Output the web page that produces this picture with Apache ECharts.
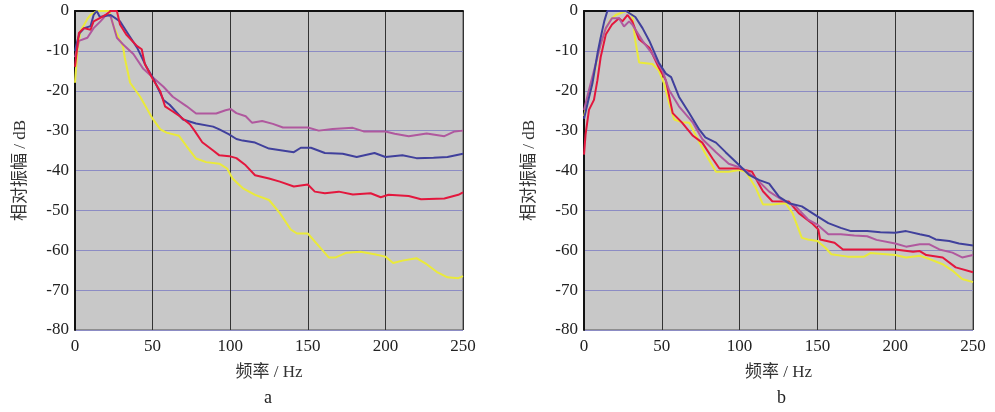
<!DOCTYPE html>
<html>
<head>
<meta charset="utf-8">
<script src="https://cdn.jsdelivr.net/npm/echarts@6/dist/echarts.min.js"></script>
<style>
  html, body { margin: 0; padding: 0; background: #fff; }
  #chart { width: 995px; height: 412px; }
</style>
</head>
<body>
<div id="chart"></div>
<script>
// x ticks / y ticks
var xTicks = [0, 50, 100, 150, 200, 250];
var yTicks = [0, -10, -20, -30, -40, -50, -60, -70, -80];

// panel a  [频率 Hz, 相对振幅 dB]
var aYellow = [[0,-18],[1.5,-10],[3.6,-5],[8,-2],[10,-1],[14,0],[22,0],[25,-4],[31,-9],[32,-11.6],[35.5,-18],[42,-21.5],[50,-27],[55,-29.7],[59,-30.5],[67,-31.3],[71.7,-33.8],[78,-37],[84.5,-37.9],[93,-38.3],[98,-39.5],[101.5,-42],[108,-44.4],[116,-46.1],[125,-47.4],[132,-50.7],[139,-54.8],[143,-55.8],[150,-55.8],[157,-58.9],[163.5,-61.8],[168,-61.8],[175,-60.6],[184,-60.4],[193,-61],[200,-61.6],[205,-63.2],[211,-62.6],[220,-62],[226.6,-63.5],[233,-65.4],[240,-66.8],[247,-67],[250,-66.5]];
var aRed = [[0,-14],[2.5,-5.5],[5.7,-4.3],[10,-4.7],[12,-2.6],[16,-1.8],[19.6,-1],[23,0],[27,0],[29,-3.4],[33,-5.9],[40,-8.8],[43,-9.6],[45,-13.3],[50,-17],[55,-20.2],[58,-23.9],[63,-25.2],[67.5,-26.4],[74,-28.4],[77,-30],[82,-32.9],[89,-35],[93,-36.2],[99.4,-36.4],[104,-36.9],[110,-38.7],[116,-41.2],[125,-42],[132,-42.8],[141,-44],[150,-43.5],[154.5,-45.3],[161,-45.7],[170,-45.3],[179,-46],[190.5,-45.7],[197,-46.7],[202,-46.1],[215,-46.4],[223,-47.2],[238,-47],[247,-46.1],[250,-45.5]];
var aBlue = [[0,-10],[1.5,-7.5],[3,-5.5],[6,-4.3],[10,-3.8],[12,-1],[14,0],[16,-1.5],[23,-1],[29,-2.6],[33,-5],[40,-9.2],[46,-14],[50,-16.6],[57,-22.3],[61,-23.5],[69.6,-27.2],[78,-28.2],[89,-29],[93,-29.7],[99,-30.9],[104,-32.1],[108,-32.5],[116,-33],[125,-34.5],[141,-35.4],[145.5,-34.3],[152,-34.3],[161,-35.6],[172.5,-35.8],[181.5,-36.6],[193,-35.6],[200,-36.6],[211,-36.2],[220,-36.9],[231,-36.8],[240,-36.6],[250,-35.8]];
var aPurple = [[0,-11.6],[2.5,-7.5],[8,-6.7],[12,-4.3],[16.4,-2.6],[20.6,-0.8],[23,-1.4],[27,-6.7],[31,-8.4],[37.6,-10.8],[44,-14.5],[50,-16.6],[57,-19],[63,-21.5],[72,-23.9],[78,-25.7],[91,-25.7],[97,-24.9],[100.4,-24.6],[104,-25.6],[110,-26.4],[114,-28],[120.6,-27.6],[127.5,-28.3],[134,-29.2],[150,-29.2],[157,-30],[166,-29.6],[179,-29.3],[186,-30.2],[200,-30.2],[206,-30.8],[215,-31.4],[226.6,-30.7],[238,-31.4],[244.6,-30.2],[250,-30]];

// panel b
var bYellow = [[0,-26.4],[2,-23],[5.4,-18.2],[8.6,-11.6],[10.7,-8.4],[14,-4.3],[17,-2.2],[20.4,-1],[27,0],[31,-1],[33,-7.5],[35.4,-12.9],[44,-13.3],[48,-14.9],[51.5,-18.2],[54.7,-23.1],[58,-27.2],[63,-27.9],[67.6,-28],[72,-31.3],[78,-35.8],[84.8,-40.3],[93,-40.3],[99.8,-39.9],[104,-40.3],[110.5,-44.4],[115,-48.5],[121,-48.5],[129.6,-48.2],[134,-50.7],[140,-56.9],[144,-57.3],[150,-57.7],[155,-59.3],[159,-61],[169.5,-61.6],[180,-61.6],[184,-60.7],[200,-61.2],[207,-61.8],[216,-61.4],[222,-62.2],[230.5,-63.5],[236.8,-65.1],[243,-67.2],[250,-68]];
var bRed = [[0,-36],[1,-31],[3.2,-24.8],[6.4,-22.3],[8.6,-17.4],[10.7,-11.6],[14,-5.9],[18,-3.4],[22.5,-1.8],[24.7,-2.6],[28,-1],[31,-2.6],[35.4,-7.1],[42,-9.2],[48,-14.1],[52.6,-17.4],[57,-25.6],[63,-28],[70,-31.3],[76,-33],[82.6,-37],[87,-39.5],[99.8,-39.5],[108,-40.3],[115,-45.2],[121,-47.7],[131.7,-47.8],[138,-50.7],[146.4,-53.2],[150.6,-54.8],[151.7,-57.3],[161,-58.1],[166.4,-59.8],[182,-59.8],[200,-59.8],[211.5,-60.4],[215.8,-60.2],[220,-61.2],[230.5,-61.8],[238.9,-64.3],[250,-65.5]];
var bBlue = [[0,-27],[3,-22],[5.4,-18.2],[8.6,-10.8],[10.7,-6.7],[13,-2.6],[15,0],[27,0],[33,-1.5],[37.6,-4.3],[42,-7.5],[48,-12.9],[52.6,-15.7],[56,-16.6],[61,-21.5],[67.6,-25.6],[74,-29.7],[78,-31.7],[84.8,-33],[91,-35.4],[99.8,-38.7],[106,-41.1],[112.7,-42.4],[119,-43.3],[125.4,-46.6],[131.7,-48.2],[140,-49],[150,-51.5],[157,-53.2],[165,-54.4],[171.6,-55.2],[182,-55.2],[190.5,-55.5],[200,-55.6],[207,-55.2],[215.8,-56],[222,-56.5],[226,-57.3],[234.7,-57.7],[241,-58.3],[250,-58.8]];
var bPurple = [[0,-24.8],[3.2,-19.8],[7.5,-13.3],[10.7,-8.4],[14,-4.3],[18,-1.8],[22.5,-1.8],[25.7,-3.9],[29,-2.6],[31,-3.4],[37.6,-7.5],[44,-10.8],[50.4,-14.9],[54.7,-19.8],[61,-23.9],[70,-28],[76,-32.1],[84.8,-35.4],[93,-38.3],[102,-39.5],[110.5,-42],[119,-45.3],[127.5,-47.4],[136,-49],[144,-52.3],[150,-53.6],[157,-56],[165,-56],[173.7,-56.3],[182,-56.5],[188,-57.4],[200,-58.3],[207,-59.1],[215.8,-58.5],[222,-58.5],[228.4,-59.8],[236.8,-60.6],[243,-61.8],[250,-61.2]];

var colYellow = '#eaea3a', colRed = '#e3173d', colBlue = '#40409c', colPurple = '#b0589e';

var serif = 'Liberation Serif, Noto Sans CJK SC, serif';

function xAxisOf(idx) {
    return {
        type: 'value', gridIndex: idx, min: xTicks[0], max: xTicks[xTicks.length - 1], interval: 50,
        name: '频率 / Hz', nameLocation: 'middle', nameGap: 34,
        nameTextStyle: { fontFamily: serif, fontSize: 17, color: '#333' },
        axisLine: { lineStyle: { color: '#111', width: 2 } },
        axisTick: { show: false },
        axisLabel: { fontFamily: serif, fontSize: 17, color: '#222', margin: 8 },
        splitLine: { show: true, lineStyle: { color: '#333', width: 1 } }
    };
}
function yAxisOf(idx) {
    return {
        type: 'value', gridIndex: idx, min: yTicks[yTicks.length - 1], max: yTicks[0], interval: 10,
        name: '相对振幅 / dB', nameLocation: 'middle', nameGap: 46, nameRotate: 90,
        nameTextStyle: { fontFamily: serif, fontSize: 17, color: '#333' },
        axisLine: { show: true, lineStyle: { color: '#111', width: 2 } },
        axisTick: { show: false },
        axisLabel: { fontFamily: serif, fontSize: 17, color: '#222', margin: 6 },
        splitLine: { show: true, lineStyle: { color: '#8c8cc4', width: 1.2 } }
    };
}
function lineOf(name, idx, data, color) {
    return {
        name: name, type: 'line', xAxisIndex: idx, yAxisIndex: idx, data: data,
        showSymbol: false, symbol: 'none', silent: true, animation: false,
        lineStyle: { color: color, width: 2 }
    };
}

var chart = echarts.init(document.getElementById('chart'));
chart.setOption({
    backgroundColor: '#fff',
    animation: false,
    title: [
        { text: 'a', left: 259, top: 384, textStyle: { fontFamily: serif, fontSize: 18, fontWeight: 'normal', color: '#222' } },
        { text: 'b', left: 772, top: 384, textStyle: { fontFamily: serif, fontSize: 18, fontWeight: 'normal', color: '#222' } }
    ],
    grid: [
        { left: 75, top: 11, width: 388, height: 319, show: true, backgroundColor: '#c8c8c8', borderColor: '#555', borderWidth: 1 },
        { left: 584, top: 11, width: 389, height: 319, show: true, backgroundColor: '#c8c8c8', borderColor: '#555', borderWidth: 1 }
    ],
    xAxis: [xAxisOf(0), xAxisOf(1)],
    yAxis: [yAxisOf(0), yAxisOf(1)],
    series: [
        lineOf('yellow', 0, aYellow, colYellow),
        lineOf('purple', 0, aPurple, colPurple),
        lineOf('blue', 0, aBlue, colBlue),
        lineOf('red', 0, aRed, colRed),
        lineOf('yellow', 1, bYellow, colYellow),
        lineOf('red', 1, bRed, colRed),
        lineOf('purple', 1, bPurple, colPurple),
        lineOf('blue', 1, bBlue, colBlue)
    ]
});
</script>
</body>
</html>
